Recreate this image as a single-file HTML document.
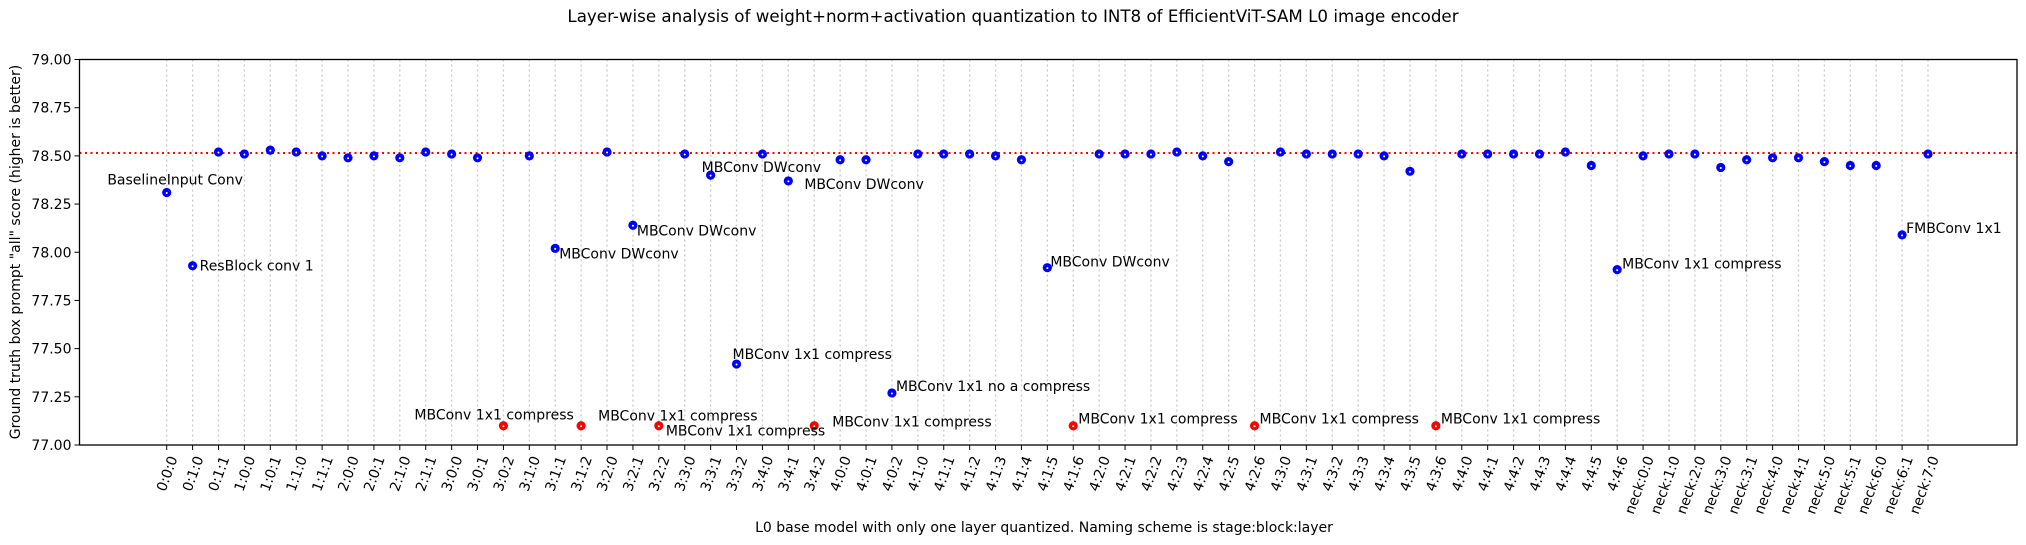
<!DOCTYPE html>
<html><head><meta charset="utf-8">
<style>
html,body{margin:0;padding:0;background:#fff;}
svg{display:block;font-family:"DejaVu Sans","Liberation Sans",sans-serif;}
</style></head>
<body>
<svg id="chart" width="2026" height="545" viewBox="0 0 2026 545" xmlns="http://www.w3.org/2000/svg">
<rect width="2026" height="545" fill="#fff"/>
<text x="1013" y="22" text-anchor="middle" font-size="16.7">Layer-wise analysis of weight+norm+activation quantization to INT8 of EfficientViT-SAM L0 image encoder</text>
<text x="1044" y="532" text-anchor="middle" font-size="14">L0 base model with only one layer quantized. Naming scheme is stage:block:layer</text>
<text transform="translate(20,252) rotate(-90)" text-anchor="middle" font-size="14">Ground truth box prompt "all" score (higher is better)</text>
<g id="grid"></g>
<g id="ylayer"></g>
<g id="xlayer"></g>
<g id="refl"></g>
<g id="points"></g>
<g id="annots"></g>
<rect x="79.5" y="59.5" width="1937.5" height="385.5" fill="none" stroke="#000" stroke-width="1.3"/>
</svg>
<script>
const categories = ["0:0:0","0:1:0","0:1:1","1:0:0","1:0:1","1:1:0","1:1:1","2:0:0","2:0:1","2:1:0","2:1:1","3:0:0","3:0:1","3:0:2","3:1:0","3:1:1","3:1:2","3:2:0","3:2:1","3:2:2","3:3:0","3:3:1","3:3:2","3:4:0","3:4:1","3:4:2","4:0:0","4:0:1","4:0:2","4:1:0","4:1:1","4:1:2","4:1:3","4:1:4","4:1:5","4:1:6","4:2:0","4:2:1","4:2:2","4:2:3","4:2:4","4:2:5","4:2:6","4:3:0","4:3:1","4:3:2","4:3:3","4:3:4","4:3:5","4:3:6","4:4:0","4:4:1","4:4:2","4:4:3","4:4:4","4:4:5","4:4:6","neck:0:0","neck:1:0","neck:2:0","neck:3:0","neck:3:1","neck:4:0","neck:4:1","neck:5:0","neck:5:1","neck:6:0","neck:6:1","neck:7:0"];
const scores = [78.31,77.93,78.52,78.51,78.53,78.52,78.50,78.49,78.50,78.49,78.52,78.51,78.49,77.10,78.50,78.02,77.10,78.52,78.14,77.10,78.51,78.40,77.42,78.51,78.37,77.10,78.48,78.48,77.27,78.51,78.51,78.51,78.50,78.48,77.92,77.10,78.51,78.51,78.51,78.52,78.50,78.47,77.10,78.52,78.51,78.51,78.51,78.50,78.42,77.10,78.51,78.51,78.51,78.51,78.52,78.45,77.91,78.50,78.51,78.51,78.44,78.48,78.49,78.49,78.47,78.45,78.45,78.09,78.51];
const redIdx = [13,16,19,25,35,42,49];
const baseline = 78.515;
const yTicks = [77.00,77.25,77.50,77.75,78.00,78.25,78.50,78.75,79.00];
const annIdx = [0,0,1,15,18,21,24,22,28,34,56,67,13,16,19,25,35,42,49];
const annText = ["Baseline","Input Conv","ResBlock conv 1","MBConv DWconv","MBConv DWconv","MBConv DWconv","MBConv DWconv","MBConv 1x1 compress","MBConv 1x1 no a compress","MBConv DWconv","MBConv 1x1 compress","FMBConv 1x1","MBConv 1x1 compress","MBConv 1x1 compress","MBConv 1x1 compress","MBConv 1x1 compress","MBConv 1x1 compress","MBConv 1x1 compress","MBConv 1x1 compress"];

const L=79.5,R=2017,T=59.5,B=445;
const X0=166.7,X1=1928;
function xs(i){return X0+(X1-X0)*i/(categories.length-1);}
function ys(v){return B-(v-77)/(79-77)*(B-T);}
const NS="http://www.w3.org/2000/svg";
function mk(tag,attrs,parent){const e=document.createElementNS(NS,tag);for(const k in attrs)e.setAttribute(k,attrs[k]);parent.appendChild(e);return e;}
const grid=document.getElementById('grid'),xl=document.getElementById('xlayer'),yl=document.getElementById('ylayer');
categories.forEach((c,i)=>{
  const x=xs(i);
  const g=mk('line',{x1:x,x2:x,y1:T,y2:B,stroke:'#c8c8c8','stroke-width':1.3,'stroke-dasharray':'2,3'},grid);
  
  
  const t=mk('line',{x1:x,x2:x,y1:B,y2:B+5,stroke:'#000','stroke-width':1},xl);
  
  
  const lb=mk('text',{transform:`translate(${x+2},455) rotate(-70)`,'text-anchor':'end','dominant-baseline':'hanging','font-size':14},xl);
  lb.textContent=c;
  
  
});
yTicks.forEach(v=>{
  const y=ys(v);
  const t=mk('line',{x1:L-5,x2:L,y1:y,y2:y,stroke:'#000','stroke-width':1},yl);
  
  
  const lb=mk('text',{x:L-8,y:y+5,'text-anchor':'end','font-size':14},yl);
  lb.textContent=v.toFixed(2);
  
  
});
const rl=mk('line',{x1:L,x2:R,y1:ys(baseline),y2:ys(baseline),stroke:'#ff0000','stroke-width':2,'stroke-dasharray':'2,3.5'},document.getElementById('refl'));


const pts=document.getElementById('points');
scores.forEach((v,i)=>{
  const col=redIdx.includes(i)?'#ff0000':'#0000ff';
  const c=mk('circle',{cx:xs(i),cy:ys(v),r:4.6,fill:col},pts);
  
  
  const d=mk('circle',{cx:xs(i),cy:ys(v)+0.5,r:1,fill:'#fff'},pts);
  
  
});
// label offsets (layout, not data)
const off=[[0,-8,'end'],[0,-8,'start'],[7,5,'start'],[4,10,'start'],[4,10,'start'],[-9,-3,'start'],[16,8,'start'],[-4,-5,'start'],[4,-2,'start'],[3,-1,'start'],[5,-1,'start'],[4,-2,'start'],[-89,-6,'start'],[17,-5,'start'],[7,10,'start'],[18,1,'start'],[5,-2,'start'],[5,-2,'start'],[5,-2,'start']];
const an=document.getElementById('annots');
annIdx.forEach((idx,k)=>{
  const o=off[k];
  const t=mk('text',{x:xs(idx)+o[0],y:ys(scores[idx])+o[1],'text-anchor':o[2],'font-size':14},an);
  t.textContent=annText[k];
  
  
});
</script>
</body></html>
